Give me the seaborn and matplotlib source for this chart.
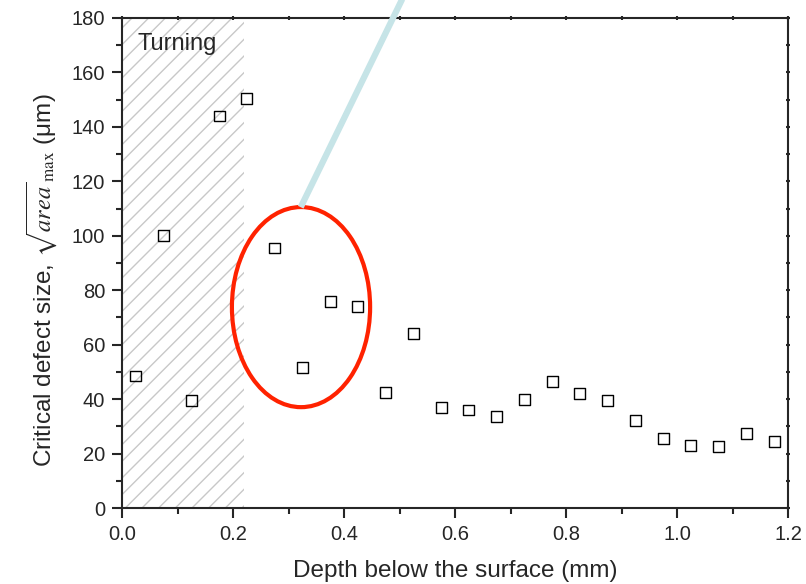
import numpy as np
import pandas as pd
import seaborn as sns
import matplotlib.pyplot as plt
from matplotlib.patches import Ellipse, Rectangle
from matplotlib.ticker import MultipleLocator

# data
depth = [0.025, 0.075, 0.125, 0.175, 0.225, 0.275, 0.325, 0.375, 0.425, 0.475,
         0.525, 0.575, 0.625, 0.675, 0.725, 0.775, 0.825, 0.875, 0.925, 0.975,
         1.025, 1.075, 1.125, 1.175]
defect_size = [48.5, 100, 39.5, 144, 150.5, 95.5, 51.5, 76, 74, 42.5,
               64, 37, 36, 33.5, 40, 46.5, 42, 39.5, 32, 25.5,
               23, 22.5, 27.5, 24.5]
turning_end = 0.22
region_label = 'Turning'

df = pd.DataFrame({'depth': depth, 'size': defect_size})

sns.set_style('ticks')
plt.rcParams['font.family'] = ['Liberation Sans', 'DejaVu Sans']
plt.rcParams['mathtext.fontset'] = 'stix'
plt.rcParams['hatch.linewidth'] = 1.0

fig = plt.figure(figsize=(8.06, 5.84), dpi=100)
ax = fig.add_axes([0.1514, 0.1301, 0.8263, 0.8391])

# hatched turning zone
ax.add_patch(Rectangle((0, 0), turning_end, 180, facecolor='none', edgecolor='#c8c8c8',
                       hatch='//', linewidth=0, zorder=0))
ax.text(0.027, 170.5, region_label, fontsize=17, va='center', ha='left')

sns.scatterplot(data=df, x='depth', y='size', ax=ax, marker='s', s=62,
                facecolor='none', edgecolor='black', linewidth=1, zorder=3)

# red ellipse and pointer line
ax.add_patch(Ellipse((0.3225, 73.8), 0.249, 73.5, facecolor='none', edgecolor='#ff2200',
                     linewidth=3, zorder=4))
ax.plot([0.322, 0.56], [110.5, 210], color='#c6e4e7', linewidth=4.5, solid_capstyle='butt',
        clip_on=False, zorder=5)

ax.set_xlim(0, 1.2)
ax.set_ylim(0, 180)
ax.xaxis.set_major_locator(MultipleLocator(0.2))
ax.xaxis.set_minor_locator(MultipleLocator(0.1))
ax.yaxis.set_major_locator(MultipleLocator(20))
ax.yaxis.set_minor_locator(MultipleLocator(10))
ax.tick_params(which='major', direction='out', length=7, width=1.5, labelsize=14.5, pad=5)
ax.tick_params(which='minor', direction='out', length=4, width=1.5)
ax.tick_params(which='both', top=True, right=True)
for s in ax.spines.values():
    s.set_linewidth(1.5)
    s.set_visible(True)
ax.xaxis.set_major_formatter(plt.FuncFormatter(lambda v, p: f'{v:.1f}'))

# top and right ticks short, crossing the spine
for t in ax.xaxis.get_major_ticks() + ax.xaxis.get_minor_ticks():
    t.tick2line.set_markersize(3)
    t.tick2line.set_marker('|')
for t in ax.yaxis.get_major_ticks() + ax.yaxis.get_minor_ticks():
    t.tick2line.set_markersize(3)
    t.tick2line.set_marker('_')

ax.set_xlabel('Depth below the surface (mm)', fontsize=17.5, labelpad=12)
ax.set_ylabel(r'Critical defect size, $\sqrt{\mathit{area}}_{\,\mathrm{max}}$ (μm)',
              fontsize=17.5)
ax.yaxis.set_label_coords(-0.094, 0.465)

fig.savefig('out.png', dpi=100)
